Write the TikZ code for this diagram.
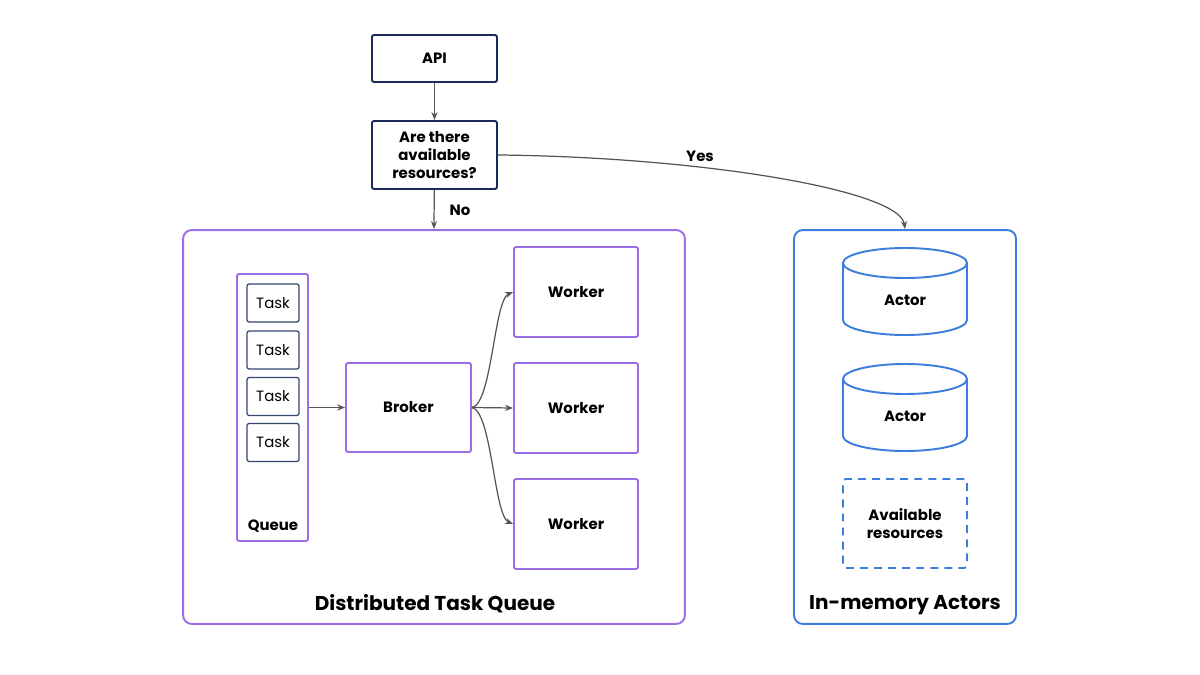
\documentclass[tikz,border=0pt]{standalone}
\usepackage{fontspec}
\setmainfont{Poppins}
\usetikzlibrary{arrows.meta}
\definecolor{navy}{HTML}{1B2A5C}
\definecolor{tasknavy}{HTML}{34476E}
\definecolor{purp}{HTML}{9D6FE6}
\definecolor{blu}{HTML}{3D7EDD}
\definecolor{conn}{HTML}{555555}
\tikzset{
  base/.style={rectangle, rounded corners=1.2pt, inner sep=0pt, align=center, font=\fontsize{8.5}{10}\selectfont\bfseries},
  navybox/.style={base, draw=navy, line width=1.1pt, minimum width=2.5cm},
  pbox/.style={base, draw=purp, line width=1.1pt},
  taskbox/.style={base, draw=tasknavy, line width=0.7pt, font=\fontsize{8.5}{10}\selectfont, minimum width=1.04cm, minimum height=0.76cm},
  container/.style={rectangle, rounded corners=5pt, line width=1.1pt, minimum height=7.88cm, inner sep=0pt},
  conn/.style={draw=conn, line width=0.7pt, -{Stealth[length=4.5pt,width=3.5pt]}},
  lbl/.style={font=\fontsize{8.5}{10}\selectfont\bfseries, inner sep=0pt},
  title/.style={font=\fontsize{11.4}{13}\selectfont\bfseries, inner sep=0pt},
  actorshape/.style={draw=blu, line width=1.1pt},
}
\begin{document}
\begin{tikzpicture}[x=0.02cm,y=-0.02cm]
\useasboundingbox (0,0) rectangle (1200,675);
% containers
\node[container, draw=purp, minimum width=10.04cm] (dtq) at (434,427) {};
\node[container, draw=blu, minimum width=4.44cm] (ima) at (905,427) {};
\node[title] (dtqt) at (435,604) {Distributed Task Queue};
\node[title] (imat) at (905,605) {In-memory Actors};
% top
\node[navybox, minimum height=0.94cm] (api) at (434.5,58.5) {API};
\node[navybox, minimum height=1.36cm] (dec) at (434.5,155) {Are there\\available\\resources?};
% queue
\node[pbox, minimum width=1.42cm, minimum height=5.34cm] (queue) at (272.5,407.5) {};
\node[lbl] (queuel) at (273,526) {Queue};
\node[taskbox] (t1) at (273,303) {Task};
\node[taskbox] (t2) at (273,350) {Task};
\node[taskbox] (t3) at (273,396.5) {Task};
\node[taskbox] (t4) at (273,442.5) {Task};
% broker & workers
\node[pbox, minimum width=2.5cm, minimum height=1.78cm] (broker) at (408.5,407.5) {Broker};
\node[pbox, minimum width=2.48cm, minimum height=1.8cm] (w1) at (576,292) {Worker};
\node[pbox, minimum width=2.48cm, minimum height=1.8cm] (w2) at (576,408) {Worker};
\node[pbox, minimum width=2.48cm, minimum height=1.8cm] (w3) at (576,524) {Worker};
% actors
\foreach \n/\c in {a1/291.5, a2/407.5}{
  \draw[actorshape] (843,\c-28.5) -- (843,\c+28.5) arc[start angle=180, end angle=360, x radius=1.24cm, y radius=0.3cm] -- (967,\c-28.5);
  \draw[actorshape] (905,\c-28.5) ellipse[x radius=1.24cm, y radius=0.3cm];
}
\node[lbl] (a1) at (905,300) {Actor};
\node[lbl] (a2) at (905,416) {Actor};
\node[base, draw=blu, line width=1.1pt, dash pattern=on 4.5pt off 3.5pt, rounded corners=1.5pt, minimum width=2.48cm, minimum height=1.78cm] (avail) at (905,523.5) {Available\\resources};
% connectors
\draw[conn] (api) -- (dec);
\draw[conn] (dec) -- (dtq.north);
\node[lbl] (no) at (460,210) {No};
\draw[conn] (dec.east) .. controls (700,157) and (900,190) .. (ima.north);
\node[lbl] (yes) at (700,156) {Yes};
\draw[conn] (queue.east) -- (broker.west);
\draw[conn] (broker.east) .. controls (492,404) and (494,300) .. (w1.west);
\draw[conn] (broker.east) -- (w2.west);
\draw[conn] (broker.east) .. controls (492,412) and (494,516) .. (w3.west);
\end{tikzpicture}
\end{document}
